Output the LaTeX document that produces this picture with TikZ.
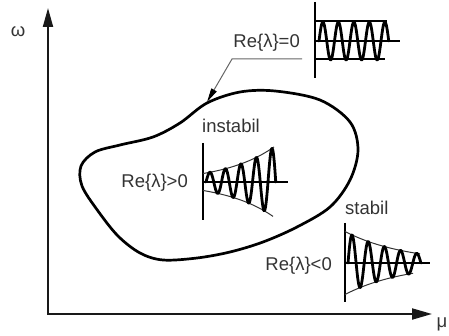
\documentclass[tikz,border=0pt]{standalone}
\usepackage{fontspec}
\setmainfont{Liberation Sans}
\usetikzlibrary{arrows.meta}
\begin{document}
\begin{tikzpicture}[x=1pt,y=-1pt,
  axisline/.style={line width=2pt, black!90},
  blobline/.style={line width=2.7pt, line join=round},
  wave/.style={line width=2.8pt, line join=round, line cap=round},
  env/.style={line width=1pt, black!80},
  waveaxis/.style={line width=1.8pt},
  leader/.style={line width=1pt, black!60, -{Triangle[length=14pt,width=6pt,color=black]}},
  lbl/.style={font=\fontsize{18.5}{20}\selectfont, text=black!80, inner sep=0pt},
  ]
\useasboundingbox (0,0) rectangle (449,336);
% axes
\coordinate (ytip) at (48,8);
\coordinate (origin) at (48,314);
\coordinate (xtip) at (432,314);
\draw[axisline, {Triangle[length=19pt,width=10pt]}-{Triangle[length=20pt,width=11pt]}] (ytip) -- (origin) -- (xtip);
\node[lbl, anchor=base] (omega) at (18,37) {ω};
\node[lbl, anchor=base] (mu) at (442,327) {μ};

% closed region
\draw[blobline] plot[smooth cycle, tension=0.55] coordinates {
  (207,103) (240,92) (275,91) (320,100) (350,122) (358,150) (350,180)
  (330,207) (297,227) (263,242) (230,252) (197,258) (163,260) (140,253)
  (118,236) (98,211) (82,186) (81,166) (95,152) (120,145) (153,137) (180,123)};

% leader to boundary
\node[lbl, anchor=base east] (re0) at (300,48) {Re\{λ\}=0};
\coordinate (leadend) at (302,59);
\coordinate (bend) at (232,59);
\coordinate (hit) at (207,102);
\draw[leader] (leadend) -- (bend) -- (hit);

% top: constant oscillation
\coordinate (a0top) at (315,2);
\coordinate (a0bot) at (315,78);
\coordinate (a0l) at (315,41);
\coordinate (a0r) at (400,41);
\draw[waveaxis] (a0top) -- (a0bot);
\draw[waveaxis] (a0l) -- (a0r);
\draw[waveaxis] (315,21) -- (387,21);
\draw[waveaxis] (315,59) -- (385,59);
\draw[wave] plot[domain=319:388.75, samples=140] (\x, {41 - 19*sin(((\x-319)/15.5)*360)});

% instabil
\node[lbl, anchor=base west] (inst) at (202,133) {instabil};
\node[lbl, anchor=base east] (regt) at (188,188) {Re\{λ\}>0};
\draw[waveaxis] (203,143) -- (203,220);
\draw[waveaxis] (203,182) -- (288,182);
\draw[env] plot[domain=203:274, samples=40] (\x, {182 - 9*exp(0.02*(\x-206))});
\draw[env] plot[domain=203:273, samples=40] (\x, {182 + 9*exp(0.02*(\x-206))});
\draw[wave] plot[domain=206:275.75, samples=160] (\x, {182 - 9*exp(0.02*(\x-206))*sin(((\x-206)/15.5)*360)});

% stabil
\node[lbl, anchor=base west] (stab) at (345,215) {stabil};
\node[lbl, anchor=base east] (relt) at (332,270) {Re\{λ\}<0};
\draw[waveaxis] (345,223) -- (345,302);
\draw[waveaxis] (345,263) -- (430,263);
\draw[env] plot[domain=345:420, samples=40] (\x, {263 - 30*exp(-0.0165*(\x-348))});
\draw[env] plot[domain=345:413, samples=40] (\x, {263 + 30*exp(-0.0165*(\x-348))});
\draw[wave] plot[domain=348:420.9, samples=160] (\x, {263 - 30*exp(-0.0165*(\x-348))*sin(((\x-348)/16.2)*360)});
\end{tikzpicture}
\end{document}
